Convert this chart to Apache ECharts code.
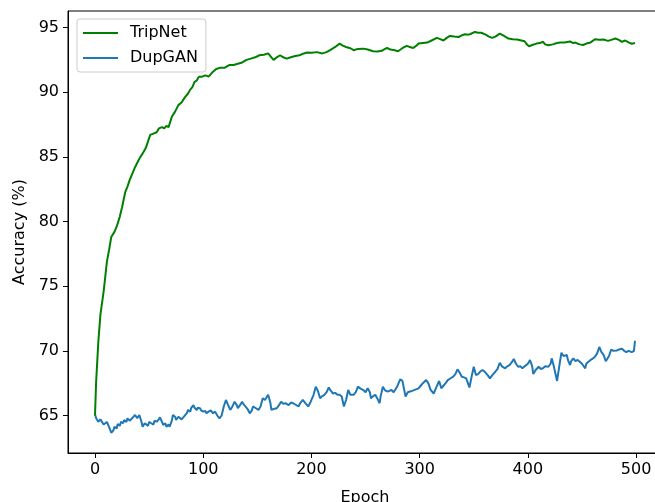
<!DOCTYPE html>
<html>
<head>
<meta charset="utf-8">
<script src="https://cdn.jsdelivr.net/npm/echarts@6/dist/echarts.min.js"></script>
<style>html,body{margin:0;padding:0;background:#fff}#c{width:655px;height:502px}</style>
</head>
<body>
<div id="c"></div>
<script>
const xTicks = [0, 100, 200, 300, 400, 500];
const yTicks = [65, 70, 75, 80, 85, 90, 95];

const tripEpochs = [0,1,3,5,8,11,13,15,18,20,23,25,28,30,32,35,37,40,42,45,47,49,51,54,57,59,62,64,66,68,71,74,77,80,83,86,88,90,92,94,96,99,102,105,108,112,116,120,124,128,132,136,140,144,148,152,156,160,163,165,168,171,174,177,181,185,189,193,196,200,205,210,214,218,222,226,229,232,236,239,243,248,252,257,261,265,268,270,273,277,280,284,288,291,294,297,299,303,307,311,316,319,322,325,328,332,336,339,342,345,347,351,354,357,361,364,367,370,374,378,382,386,390,394,397,399,401,404,408,411,414,416,419,423,427,430,434,439,442,444,446,448,451,454,458,462,466,470,474,477,481,484,487,490,493,496,499];
const tripValues = [65.0,67.5,70.6,72.8,74.6,76.9,77.8,78.8,79.2,79.6,80.4,81.1,82.3,82.7,83.2,83.8,84.2,84.7,85.0,85.4,85.7,86.2,86.7,86.8,86.9,87.2,87.3,87.2,87.4,87.3,88.1,88.5,89.0,89.2,89.6,89.9,90.2,90.4,90.8,90.9,91.2,91.2,91.3,91.2,91.5,91.8,91.9,91.9,92.1,92.1,92.2,92.3,92.5,92.6,92.7,92.86,92.9,93.0,92.7,92.5,92.7,92.86,92.7,92.6,92.7,92.8,92.86,93.0,93.07,93.05,93.1,93.0,93.1,93.3,93.5,93.76,93.6,93.5,93.4,93.25,93.35,93.37,93.3,93.17,93.15,93.2,93.35,93.42,93.3,93.25,93.17,93.4,93.58,93.5,93.42,93.6,93.76,93.8,93.84,94.0,94.2,94.1,94.0,94.2,94.35,94.3,94.27,94.4,94.48,94.45,94.5,94.66,94.6,94.6,94.45,94.3,94.2,94.3,94.53,94.35,94.15,94.1,94.07,94.0,93.94,93.7,93.55,93.65,93.76,93.8,93.9,93.7,93.63,93.7,93.8,93.84,93.85,93.92,93.8,93.84,93.75,93.7,93.65,93.76,93.85,94.1,94.05,94.07,93.97,94.05,94.15,94.05,93.9,94.0,93.85,93.75,93.8];

const dupEpochs = [0,1,3,5,6,8,9,11,12,14,15,17,18,20,21,23,24,26,27,29,30,32,33,35,37,39,41,43,44,46,47,49,50,52,54,55,57,59,60,62,63,65,66,68,69,71,72,74,75,77,78,80,82,83,85,86,88,89,91,92,94,95,97,98,100,102,103,105,107,109,111,113,115,117,119,121,123,125,127,129,131,132,134,136,137,139,141,143,145,146,148,151,153,155,157,160,162,163,165,168,170,172,174,176,179,181,183,185,188,190,192,194,197,199,200,202,204,206,208,210,212,214,216,218,220,222,224,226,228,230,232,234,236,237,239,241,243,245,248,250,252,254,255,257,259,261,263,264,266,268,270,272,274,276,277,279,282,284,285,287,289,291,293,296,299,301,303,306,308,310,313,315,318,320,322,324,326,329,331,333,335,337,339,341,343,346,348,350,352,354,356,358,360,363,365,367,370,372,374,376,379,381,383,385,387,389,391,393,395,397,400,402,404,405,407,410,412,414,416,419,421,422,424,427,429,431,433,436,437,439,440,442,444,446,448,450,453,454,456,458,460,462,464,466,468,470,472,473,475,477,479,482,484,487,489,491,493,494,496,498,499];
const dupValues = [65.1,64.8,64.52,64.7,64.65,64.3,64.4,64.5,64.45,63.9,63.67,63.85,64.13,64.0,64.34,64.2,64.52,64.4,64.65,64.5,64.78,64.6,64.7,64.85,65.04,64.8,65.04,64.5,64.13,64.4,64.52,64.2,64.5,64.4,64.3,64.6,64.52,64.7,64.86,64.5,64.27,64.4,64.13,64.3,64.13,64.6,65.04,64.9,64.65,64.9,64.78,64.7,64.9,65.04,65.2,65.43,65.3,65.6,65.8,65.6,65.43,65.6,65.56,65.4,65.3,65.35,65.17,65.3,65.4,65.17,65.3,65.0,64.78,65.0,65.7,66.2,65.8,65.43,65.7,66.06,65.8,65.56,65.8,66.06,65.9,65.7,65.5,65.17,65.4,65.7,65.6,65.43,65.7,66.33,66.2,66.6,66.0,65.43,65.5,65.56,65.8,66.06,65.9,65.95,65.8,66.0,65.95,65.85,65.7,66.0,66.2,66.0,65.7,66.0,66.2,66.6,67.23,66.9,66.33,66.5,66.6,66.8,67.17,66.9,66.7,66.75,66.6,66.6,66.47,65.7,66.2,66.97,66.6,66.47,66.6,66.8,67.23,67.1,66.97,66.8,67.1,66.8,66.33,66.5,66.6,66.3,65.95,66.5,67.23,66.95,66.86,66.9,66.97,66.8,66.7,67.2,67.8,67.7,67.6,66.47,66.8,66.86,66.9,67.0,67.1,67.3,67.5,67.74,67.5,67.0,66.7,67.1,67.67,67.1,67.3,67.5,67.74,67.9,68.0,68.2,68.57,68.3,68.0,67.95,67.87,67.17,68.0,68.77,68.13,68.2,68.4,68.52,68.4,68.1,67.87,68.1,68.4,68.6,69.08,68.8,68.65,68.8,68.9,69.1,69.37,69.0,68.77,68.8,68.65,68.8,69.0,69.29,68.8,68.2,68.5,68.77,68.6,68.65,68.8,68.77,69.0,69.42,68.8,67.67,68.8,69.85,69.6,69.68,69.3,68.9,69.2,69.42,69.2,69.3,69.16,69.0,68.65,69.0,69.16,69.3,69.4,69.55,69.8,70.3,69.9,69.68,69.2,69.08,69.6,70.1,70.0,70.03,70.1,70.16,70.0,69.9,70.0,70.03,69.9,70.0,70.78];

const pairs = (xs, ys) => xs.map((x, i) => [x, ys[i]]);
const font = 'DejaVu Sans';
const fs = 16;

const chart = echarts.init(document.getElementById('c'), null, {renderer: 'canvas'});
chart.setOption({
  animation: false,
  backgroundColor: '#ffffff',
  textStyle: {fontFamily: font},
  grid: {left: 68, right: -7, top: 11, bottom: 49, show: true, borderColor: '#000', borderWidth: 1, containLabel: false, outerBoundsMode: 'none'},
  legend: {
    left: 77, top: 19, orient: 'vertical',
    padding: [5, 8, 5, 6], itemGap: 7, itemWidth: 35, itemHeight: 2,
    icon: 'rect',
    backgroundColor: 'rgba(255,255,255,0.8)', borderColor: '#cccccc', borderWidth: 1, borderRadius: 3,
    textStyle: {fontFamily: font, fontSize: fs, color: '#000', lineHeight: 18, padding: [0, 0, 0, 7]},
    data: ['TripNet', 'DupGAN']
  },
  xAxis: {
    type: 'value', min: -24.95, max: 523.95,
    name: 'Epoch', nameLocation: 'middle', nameGap: 37,
    nameTextStyle: {fontFamily: font, fontSize: fs, color: '#000'},
    axisLine: {show: true, onZero: false, lineStyle: {color: '#000', width: 1}},
    axisTick: {show: true, length: 5, lineStyle: {color: '#000', width: 1}, customValues: xTicks},
    axisLabel: {fontFamily: font, fontSize: fs, color: '#000', margin: 9, customValues: xTicks},
    splitLine: {show: false}
  },
  yAxis: {
    type: 'value', min: 62.1, max: 96.28,
    name: 'Accuracy (%)', nameLocation: 'middle', nameGap: 39,
    nameTextStyle: {fontFamily: font, fontSize: fs, color: '#000'},
    axisLine: {show: true, onZero: false, lineStyle: {color: '#000', width: 1}},
    axisTick: {show: true, length: 5, lineStyle: {color: '#000', width: 1}, customValues: yTicks},
    axisLabel: {fontFamily: font, fontSize: fs, color: '#000', margin: 9, customValues: yTicks},
    splitLine: {show: false}
  },
  series: [
    {name: 'TripNet', type: 'line', data: pairs(tripEpochs, tripValues), showSymbol: false, symbol: 'none',
     lineStyle: {color: '#008000', width: 2}, itemStyle: {color: '#008000'}, z: 3},
    {name: 'DupGAN', type: 'line', data: pairs(dupEpochs, dupValues), showSymbol: false, symbol: 'none',
     lineStyle: {color: '#1f77b4', width: 2}, itemStyle: {color: '#1f77b4'}, z: 2}
  ]
});
</script>
</body>
</html>
